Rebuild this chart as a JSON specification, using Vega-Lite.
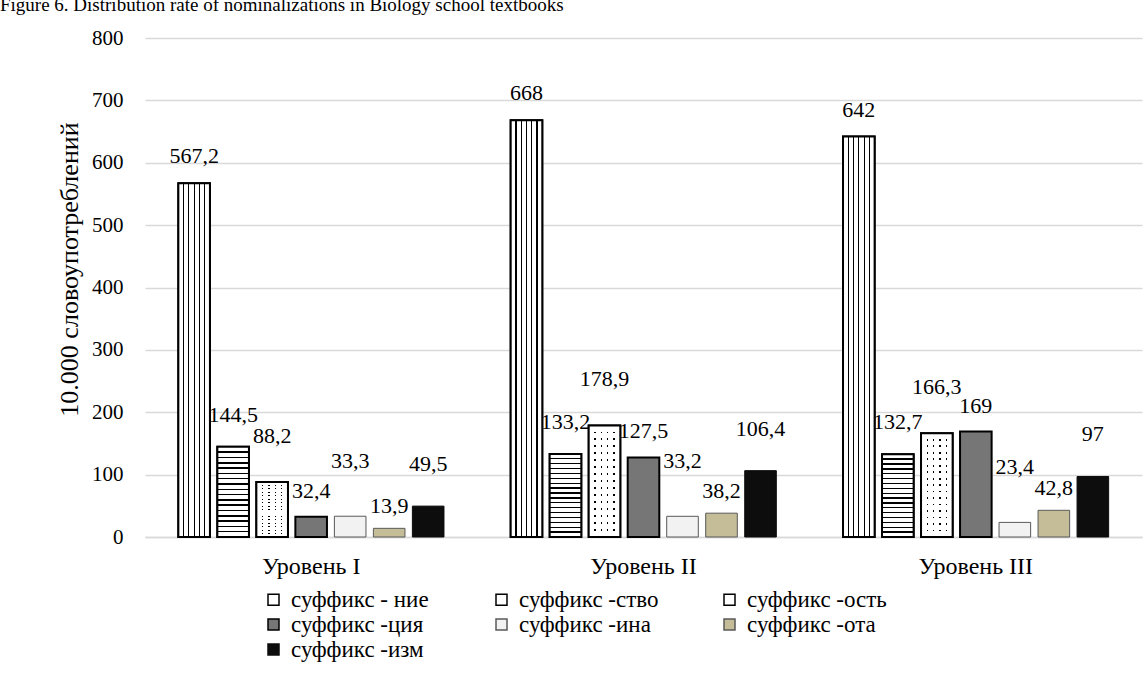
{
  "$schema": "https://vega.github.io/schema/vega-lite/v6.json",
  "width": 997,
  "height": 499,
  "autosize": {"type": "none"},
  "padding": {"left": 145, "top": 38, "right": 4, "bottom": 143},
  "background": "#ffffff",
  "title": {
    "text": "Figure 6. Distribution rate of nominalizations in Biology school textbooks",
    "anchor": "start",
    "frame": "group",
    "dx": -145,
    "offset": 12,
    "fontSize": 19,
    "font": "Liberation Serif",
    "fontWeight": "normal",
    "color": "#000000"
  },
  "data": {
    "values": [
      {"level": "Уровень I", "suffix": "суффикс - ние", "value": 567.2, "label": "567,2"},
      {"level": "Уровень I", "suffix": "суффикс -ство", "value": 144.5, "label": "144,5"},
      {"level": "Уровень I", "suffix": "суффикс -ость", "value": 88.2, "label": "88,2"},
      {"level": "Уровень I", "suffix": "суффикс -ция", "value": 32.4, "label": "32,4"},
      {"level": "Уровень I", "suffix": "суффикс -ина", "value": 33.3, "label": "33,3"},
      {"level": "Уровень I", "suffix": "суффикс -ота", "value": 13.9, "label": "13,9"},
      {"level": "Уровень I", "suffix": "суффикс -изм", "value": 49.5, "label": "49,5"},
      {"level": "Уровень II", "suffix": "суффикс - ние", "value": 668, "label": "668"},
      {"level": "Уровень II", "suffix": "суффикс -ство", "value": 133.2, "label": "133,2"},
      {"level": "Уровень II", "suffix": "суффикс -ость", "value": 178.9, "label": "178,9"},
      {"level": "Уровень II", "suffix": "суффикс -ция", "value": 127.5, "label": "127,5"},
      {"level": "Уровень II", "suffix": "суффикс -ина", "value": 33.2, "label": "33,2"},
      {"level": "Уровень II", "suffix": "суффикс -ота", "value": 38.2, "label": "38,2"},
      {"level": "Уровень II", "suffix": "суффикс -изм", "value": 106.4, "label": "106,4"},
      {"level": "Уровень III", "suffix": "суффикс - ние", "value": 642, "label": "642"},
      {"level": "Уровень III", "suffix": "суффикс -ство", "value": 132.7, "label": "132,7"},
      {"level": "Уровень III", "suffix": "суффикс -ость", "value": 166.3, "label": "166,3"},
      {"level": "Уровень III", "suffix": "суффикс -ция", "value": 169, "label": "169"},
      {"level": "Уровень III", "suffix": "суффикс -ина", "value": 23.4, "label": "23,4"},
      {"level": "Уровень III", "suffix": "суффикс -ота", "value": 42.8, "label": "42,8"},
      {"level": "Уровень III", "suffix": "суффикс -изм", "value": 97, "label": "97"}
    ]
  },
  "encoding": {
    "x": {
      "field": "level",
      "type": "nominal",
      "sort": null,
      "scale": {"domain": ["Уровень I", "Уровень II", "Уровень III"], "paddingInner": 0, "paddingOuter": 0},
      "axis": {
        "title": null,
        "labelAngle": 0,
        "domain": true,
        "domainColor": "#d9d9d9",
        "domainWidth": 1.3,
        "ticks": false,
        "grid": false,
        "labelPadding": 17,
        "labelFontSize": 24,
        "labelFont": "Liberation Serif",
        "labelColor": "#000000"
      }
    },
    "xOffset": {
      "field": "suffix",
      "type": "nominal",
      "sort": null,
      "scale": {
        "domain": ["суффикс - ние", "суффикс -ство", "суффикс -ость", "суффикс -ция", "суффикс -ина", "суффикс -ота", "суффикс -изм"],
        "paddingInner": 0.19,
        "paddingOuter": 0.855
      }
    },
    "y": {
      "field": "value",
      "type": "quantitative",
      "scale": {"domain": [0, 800], "nice": false},
      "axis": {
        "title": "10.000 словоупотреблений",
        "values": [0, 100, 200, 300, 400, 500, 600, 700, 800],
        "grid": true,
        "gridColor": "#d9d9d9",
        "gridWidth": 1.3,
        "domain": false,
        "ticks": false,
        "labelPadding": 22,
        "labelFontSize": 21,
        "labelFont": "Liberation Serif",
        "labelColor": "#000000",
        "titleFont": "Liberation Serif",
        "titleFontSize": 26,
        "titleFontWeight": "normal",
        "titleColor": "#000000",
        "titlePadding": 9,
        "titleY": 231
      }
    }
  },
  "layer": [
    {
      "mark": {"type": "bar", "strokeWidth": 2},
      "encoding": {
        "color": {
          "field": "suffix",
          "type": "nominal",
          "sort": null,
          "scale": {
            "domain": ["суффикс - ние", "суффикс -ство", "суффикс -ость", "суффикс -ция", "суффикс -ина", "суффикс -ота", "суффикс -изм"],
            "range": ["#ffffff", "#ffffff", "#ffffff", "#767676", "#f2f2f2", "#c4bd97", "#0d0d0d"]
          },
          "legend": {
            "title": null,
            "orient": "none",
            "direction": "horizontal",
            "legendX": 117,
            "legendY": 550,
            "columns": 3,
            "gridAlign": "all",
            "columnPadding": 59,
            "rowPadding": 1,
            "symbolType": "square",
            "symbolSize": 121,
            "symbolStrokeWidth": 1.5,
            "labelOffset": 6,
            "labelFont": "Liberation Serif",
            "labelFontSize": 23,
            "labelColor": "#000000",
            "labelLimit": 400
          }
        },
        "stroke": {
          "field": "suffix",
          "type": "nominal",
          "sort": null,
          "scale": {
            "domain": ["суффикс - ние", "суффикс -ство", "суффикс -ость", "суффикс -ция", "суффикс -ина", "суффикс -ота", "суффикс -изм"],
            "range": ["#000000", "#000000", "#000000", "#000000", "#595959", "#595959", "#0d0d0d"]
          },
          "legend": {
            "title": null,
            "orient": "none",
            "direction": "horizontal",
            "legendX": 117,
            "legendY": 550,
            "columns": 3,
            "gridAlign": "all",
            "columnPadding": 59,
            "rowPadding": 1,
            "symbolType": "square",
            "symbolSize": 121,
            "symbolStrokeWidth": 1.5,
            "labelOffset": 6,
            "labelFont": "Liberation Serif",
            "labelFontSize": 23,
            "labelColor": "#000000",
            "labelLimit": 400
          }
        },
        "strokeWidth": {
          "condition": {"test": "datum.suffix === 'суффикс -ина' || datum.suffix === 'суффикс -ота' || datum.suffix === 'суффикс -изм'", "value": 1},
          "value": 2
        }
      }
    },
    {
      "transform": [{"filter": "datum.suffix === 'суффикс - ние'"}],
      "mark": {
        "type": "bar",
        "stroke": "#000000",
        "strokeWidth": 2,
        "fill": {"gradient": "linear", "x1": 0, "y1": 0, "x2": 1, "y2": 0, "stops": [
          {"offset": 0, "color": "#ffffff"},
          {"offset": 0.149, "color": "#ffffff"}, {"offset": 0.149, "color": "#000000"}, {"offset": 0.185, "color": "#000000"}, {"offset": 0.185, "color": "#ffffff"},
          {"offset": 0.315, "color": "#ffffff"}, {"offset": 0.315, "color": "#000000"}, {"offset": 0.351, "color": "#000000"}, {"offset": 0.351, "color": "#ffffff"},
          {"offset": 0.482, "color": "#ffffff"}, {"offset": 0.482, "color": "#000000"}, {"offset": 0.518, "color": "#000000"}, {"offset": 0.518, "color": "#ffffff"},
          {"offset": 0.649, "color": "#ffffff"}, {"offset": 0.649, "color": "#000000"}, {"offset": 0.685, "color": "#000000"}, {"offset": 0.685, "color": "#ffffff"},
          {"offset": 0.815, "color": "#ffffff"}, {"offset": 0.815, "color": "#000000"}, {"offset": 0.851, "color": "#000000"}, {"offset": 0.851, "color": "#ffffff"},
          {"offset": 1, "color": "#ffffff"}
        ]}
      }
    },
    {
      "transform": [{"filter": "datum.suffix === 'суффикс -ство'"}],
      "mark": {
        "type": "bar",
        "stroke": "#000000",
        "strokeWidth": 2,
        "fill": {"gradient": "linear", "x1": 0, "y1": 0, "x2": 0, "y2": 1, "stops": [
          {"offset": 0, "color": "#ffffff"},
          {"offset": 0.051, "color": "#ffffff"}, {"offset": 0.051, "color": "#000000"}, {"offset": 0.067, "color": "#000000"}, {"offset": 0.067, "color": "#ffffff"},
          {"offset": 0.110, "color": "#ffffff"}, {"offset": 0.110, "color": "#000000"}, {"offset": 0.126, "color": "#000000"}, {"offset": 0.126, "color": "#ffffff"},
          {"offset": 0.169, "color": "#ffffff"}, {"offset": 0.169, "color": "#000000"}, {"offset": 0.185, "color": "#000000"}, {"offset": 0.185, "color": "#ffffff"},
          {"offset": 0.227, "color": "#ffffff"}, {"offset": 0.227, "color": "#000000"}, {"offset": 0.243, "color": "#000000"}, {"offset": 0.243, "color": "#ffffff"},
          {"offset": 0.286, "color": "#ffffff"}, {"offset": 0.286, "color": "#000000"}, {"offset": 0.302, "color": "#000000"}, {"offset": 0.302, "color": "#ffffff"},
          {"offset": 0.345, "color": "#ffffff"}, {"offset": 0.345, "color": "#000000"}, {"offset": 0.361, "color": "#000000"}, {"offset": 0.361, "color": "#ffffff"},
          {"offset": 0.404, "color": "#ffffff"}, {"offset": 0.404, "color": "#000000"}, {"offset": 0.420, "color": "#000000"}, {"offset": 0.420, "color": "#ffffff"},
          {"offset": 0.463, "color": "#ffffff"}, {"offset": 0.463, "color": "#000000"}, {"offset": 0.479, "color": "#000000"}, {"offset": 0.479, "color": "#ffffff"},
          {"offset": 0.521, "color": "#ffffff"}, {"offset": 0.521, "color": "#000000"}, {"offset": 0.537, "color": "#000000"}, {"offset": 0.537, "color": "#ffffff"},
          {"offset": 0.580, "color": "#ffffff"}, {"offset": 0.580, "color": "#000000"}, {"offset": 0.596, "color": "#000000"}, {"offset": 0.596, "color": "#ffffff"},
          {"offset": 0.639, "color": "#ffffff"}, {"offset": 0.639, "color": "#000000"}, {"offset": 0.655, "color": "#000000"}, {"offset": 0.655, "color": "#ffffff"},
          {"offset": 0.698, "color": "#ffffff"}, {"offset": 0.698, "color": "#000000"}, {"offset": 0.714, "color": "#000000"}, {"offset": 0.714, "color": "#ffffff"},
          {"offset": 0.757, "color": "#ffffff"}, {"offset": 0.757, "color": "#000000"}, {"offset": 0.773, "color": "#000000"}, {"offset": 0.773, "color": "#ffffff"},
          {"offset": 0.816, "color": "#ffffff"}, {"offset": 0.816, "color": "#000000"}, {"offset": 0.832, "color": "#000000"}, {"offset": 0.832, "color": "#ffffff"},
          {"offset": 0.874, "color": "#ffffff"}, {"offset": 0.874, "color": "#000000"}, {"offset": 0.890, "color": "#000000"}, {"offset": 0.890, "color": "#ffffff"},
          {"offset": 0.933, "color": "#ffffff"}, {"offset": 0.933, "color": "#000000"}, {"offset": 0.949, "color": "#000000"}, {"offset": 0.949, "color": "#ffffff"},
          {"offset": 1, "color": "#ffffff"}
        ]}
      }
    },
    {
      "transform": [{"filter": "datum.suffix === 'суффикс -ость'"}],
      "mark": {
        "type": "bar",
        "strokeWidth": 0,
        "fill": {"gradient": "linear", "x1": 0, "y1": 0, "x2": 1, "y2": 0, "stops": [
          {"offset": 0, "color": "#ffffff"},
          {"offset": 0.175, "color": "#ffffff"}, {"offset": 0.175, "color": "#000000"}, {"offset": 0.225, "color": "#000000"}, {"offset": 0.225, "color": "#ffffff"},
          {"offset": 0.375, "color": "#ffffff"}, {"offset": 0.375, "color": "#000000"}, {"offset": 0.425, "color": "#000000"}, {"offset": 0.425, "color": "#ffffff"},
          {"offset": 0.575, "color": "#ffffff"}, {"offset": 0.575, "color": "#000000"}, {"offset": 0.625, "color": "#000000"}, {"offset": 0.625, "color": "#ffffff"},
          {"offset": 0.775, "color": "#ffffff"}, {"offset": 0.775, "color": "#000000"}, {"offset": 0.825, "color": "#000000"}, {"offset": 0.825, "color": "#ffffff"},
          {"offset": 1, "color": "#ffffff"}
        ]}
      }
    },
    {
      "transform": [{"filter": "datum.suffix === 'суффикс -ость'"}],
      "mark": {
        "type": "bar",
        "stroke": "#000000",
        "strokeWidth": 2,
        "fill": {"gradient": "linear", "x1": 0, "y1": 0, "x2": 0, "y2": 1, "stops": [
          {"offset": 0, "color": "#ffffff"},
          {"offset": 0.055, "color": "#ffffff"}, {"offset": 0.055, "color": "rgba(255,255,255,0)"}, {"offset": 0.071, "color": "rgba(255,255,255,0)"}, {"offset": 0.071, "color": "#ffffff"},
          {"offset": 0.117, "color": "#ffffff"}, {"offset": 0.117, "color": "rgba(255,255,255,0)"}, {"offset": 0.133, "color": "rgba(255,255,255,0)"}, {"offset": 0.133, "color": "#ffffff"},
          {"offset": 0.180, "color": "#ffffff"}, {"offset": 0.180, "color": "rgba(255,255,255,0)"}, {"offset": 0.196, "color": "rgba(255,255,255,0)"}, {"offset": 0.196, "color": "#ffffff"},
          {"offset": 0.242, "color": "#ffffff"}, {"offset": 0.242, "color": "rgba(255,255,255,0)"}, {"offset": 0.258, "color": "rgba(255,255,255,0)"}, {"offset": 0.258, "color": "#ffffff"},
          {"offset": 0.305, "color": "#ffffff"}, {"offset": 0.305, "color": "rgba(255,255,255,0)"}, {"offset": 0.321, "color": "rgba(255,255,255,0)"}, {"offset": 0.321, "color": "#ffffff"},
          {"offset": 0.367, "color": "#ffffff"}, {"offset": 0.367, "color": "rgba(255,255,255,0)"}, {"offset": 0.383, "color": "rgba(255,255,255,0)"}, {"offset": 0.383, "color": "#ffffff"},
          {"offset": 0.430, "color": "#ffffff"}, {"offset": 0.430, "color": "rgba(255,255,255,0)"}, {"offset": 0.446, "color": "rgba(255,255,255,0)"}, {"offset": 0.446, "color": "#ffffff"},
          {"offset": 0.492, "color": "#ffffff"}, {"offset": 0.492, "color": "rgba(255,255,255,0)"}, {"offset": 0.508, "color": "rgba(255,255,255,0)"}, {"offset": 0.508, "color": "#ffffff"},
          {"offset": 0.555, "color": "#ffffff"}, {"offset": 0.555, "color": "rgba(255,255,255,0)"}, {"offset": 0.571, "color": "rgba(255,255,255,0)"}, {"offset": 0.571, "color": "#ffffff"},
          {"offset": 0.617, "color": "#ffffff"}, {"offset": 0.617, "color": "rgba(255,255,255,0)"}, {"offset": 0.633, "color": "rgba(255,255,255,0)"}, {"offset": 0.633, "color": "#ffffff"},
          {"offset": 0.680, "color": "#ffffff"}, {"offset": 0.680, "color": "rgba(255,255,255,0)"}, {"offset": 0.696, "color": "rgba(255,255,255,0)"}, {"offset": 0.696, "color": "#ffffff"},
          {"offset": 0.742, "color": "#ffffff"}, {"offset": 0.742, "color": "rgba(255,255,255,0)"}, {"offset": 0.758, "color": "rgba(255,255,255,0)"}, {"offset": 0.758, "color": "#ffffff"},
          {"offset": 0.805, "color": "#ffffff"}, {"offset": 0.805, "color": "rgba(255,255,255,0)"}, {"offset": 0.821, "color": "rgba(255,255,255,0)"}, {"offset": 0.821, "color": "#ffffff"},
          {"offset": 0.867, "color": "#ffffff"}, {"offset": 0.867, "color": "rgba(255,255,255,0)"}, {"offset": 0.883, "color": "rgba(255,255,255,0)"}, {"offset": 0.883, "color": "#ffffff"},
          {"offset": 0.930, "color": "#ffffff"}, {"offset": 0.930, "color": "rgba(255,255,255,0)"}, {"offset": 0.946, "color": "rgba(255,255,255,0)"}, {"offset": 0.946, "color": "#ffffff"},
          {"offset": 1, "color": "#ffffff"}
        ]}
      }
    },
    {
      "transform": [{"filter": "datum.suffix === 'суффикс - ние'"}],
      "mark": {"type": "text", "baseline": "middle", "dy": -27, "fontSize": 22, "font": "Liberation Serif", "color": "#000000"},
      "encoding": {"text": {"field": "label", "type": "nominal"}}
    },
    {
      "transform": [{"filter": "datum.suffix === 'суффикс -ство'"}],
      "mark": {"type": "text", "baseline": "middle", "dy": -32, "fontSize": 22, "font": "Liberation Serif", "color": "#000000"},
      "encoding": {"text": {"field": "label", "type": "nominal"}}
    },
    {
      "transform": [{"filter": "datum.suffix === 'суффикс -ость'"}],
      "mark": {"type": "text", "baseline": "middle", "dy": -46, "fontSize": 22, "font": "Liberation Serif", "color": "#000000"},
      "encoding": {"text": {"field": "label", "type": "nominal"}}
    },
    {
      "transform": [{"filter": "datum.suffix === 'суффикс -ция'"}],
      "mark": {"type": "text", "baseline": "middle", "dy": -26, "fontSize": 22, "font": "Liberation Serif", "color": "#000000"},
      "encoding": {"text": {"field": "label", "type": "nominal"}}
    },
    {
      "transform": [{"filter": "datum.suffix === 'суффикс -ина'"}],
      "mark": {"type": "text", "baseline": "middle", "dy": -55, "fontSize": 22, "font": "Liberation Serif", "color": "#000000"},
      "encoding": {"text": {"field": "label", "type": "nominal"}}
    },
    {
      "transform": [{"filter": "datum.suffix === 'суффикс -ота'"}],
      "mark": {"type": "text", "baseline": "middle", "dy": -22, "fontSize": 22, "font": "Liberation Serif", "color": "#000000"},
      "encoding": {"text": {"field": "label", "type": "nominal"}}
    },
    {
      "transform": [{"filter": "datum.suffix === 'суффикс -изм'"}],
      "mark": {"type": "text", "baseline": "middle", "dy": -42, "fontSize": 22, "font": "Liberation Serif", "color": "#000000"},
      "encoding": {"text": {"field": "label", "type": "nominal"}}
    }
  ],
  "config": {
    "view": {"stroke": null},
    "font": "Liberation Serif"
  }
}
